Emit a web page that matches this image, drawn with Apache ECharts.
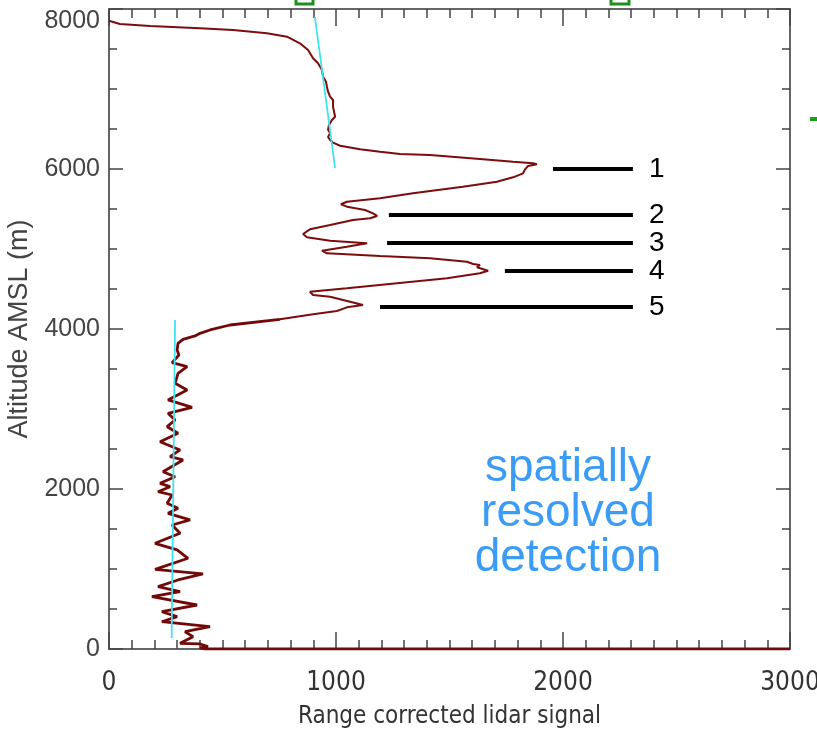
<!DOCTYPE html>
<html>
<head>
<meta charset="utf-8">
<script src="https://cdn.jsdelivr.net/npm/echarts@6/dist/echarts.min.js"></script>
<style>
  html, body { margin: 0; padding: 0; background: #fff; }
  #chart { width: 817px; height: 732px; }
</style>
</head>
<body>
<div id="chart"></div>
<script>
// lidar profile (top -> bottom)
const signal = [0, 48, 181, 401, 546, 696, 784, 841, 877, 899, 921, 938, 943, 956, 960, 965, 974, 987, 987, 996,
  982, 969, 965, 974, 965, 974, 987, 1018, 1106, 1194, 1282, 1414, 1634, 1780, 1868, 1885,
  1846, 1833, 1824, 1780, 1709, 1559, 1339, 1194, 1048, 1022, 1048, 1128, 1163, 1181,
  1150, 1075, 974, 885, 855, 872, 974, 1137, 1048, 938, 960, 1194, 1414, 1577, 1604, 1634, 1621, 1670,
  1634, 1489, 1269, 1048, 885, 899, 974, 1062, 1119, 1048, 1004, 899, 753,
  533, 445, 401, 379, 326, 304, 300, 308, 278, 344, 304, 291, 344, 260, 366, 260, 291, 256, 304, 225,
  313, 269, 326, 238, 291, 225, 269, 216, 278, 256, 304, 260, 357, 278, 313, 203, 300, 348, 203, 414,
  304, 216, 313, 189, 388, 233, 300, 233, 445, 335, 370, 313, 401, 436, 401, 420, 3000];
const altitude = [7854, 7813, 7788, 7759, 7738, 7696, 7654, 7571, 7488, 7384, 7321, 7238, 7154, 7091, 7029, 6966, 6904, 6863, 6779, 6654,
  6613, 6550, 6488, 6450, 6400, 6363, 6329, 6291, 6246, 6216, 6188, 6175, 6125, 6091, 6071, 6059,
  6038, 5996, 5946, 5896, 5841, 5779, 5696, 5634, 5591, 5559, 5529, 5488, 5446, 5413,
  5384, 5363, 5300, 5246, 5188, 5146, 5104, 5071, 5029, 4979, 4946, 4913, 4884, 4841, 4813, 4800, 4771, 4729,
  4696, 4634, 4571, 4509, 4466, 4425, 4404, 4341, 4300, 4271, 4225, 4184, 4121,
  4050, 3988, 3946, 3913, 3871, 3821, 3738, 3675, 3579, 3529, 3446, 3321, 3238, 3113, 3021, 2946, 2863, 2779, 2696, 2591,
  2488, 2404, 2363, 2216, 2154, 2071, 2029, 1966, 1925, 1821, 1759, 1696, 1613, 1550, 1446, 1321, 1238, 1134, 996, 938,
  863, 779, 716, 654, 550, 466, 404, 341, 279, 216, 154, 71, 63, 29, 13, 0, 0];

// below this altitude the profile is noisy and drawn heavier
const noisyBelow = 4121;

// cyan fit lines
const fitUpperX = [907, 996];
const fitUpperY = [7900, 6013];
const fitLowerX = [291, 276];
const fitLowerY = [4113, 138];

// layer markers 1..5
const markerNames = ['1', '2', '3', '4', '5'];
const markerAlt = [6000, 5425, 5075, 4725, 4275];
const markerStart = [1956, 1233, 1225, 1744, 1194];
const markerEnd = 2308;

const chart = echarts.init(document.getElementById('chart'));

const profile = signal.map((s, i) => [s, altitude[i]]);
const cut = altitude.indexOf(noisyBelow);
const profileUpper = profile.slice(0, cut + 1);
const profileLower = profile.slice(cut);

const markerSeries = markerNames.map((n, i) => ({
  type: 'line',
  data: [[markerStart[i], markerAlt[i]], [markerEnd, markerAlt[i]]],
  showSymbol: false,
  symbol: 'none',
  silent: true,
  lineStyle: { color: '#000', width: 4 },
  endLabel: {
    show: true,
    formatter: n,
    distance: 16,
    color: '#000',
    fontSize: 28,
    fontFamily: 'Liberation Sans, Arial, sans-serif'
  },
  z: 4
}));

const narrow = "'Liberation Sans Narrow', 'DejaVu Sans Condensed', sans-serif";
const plain = v => String(v);

const tickStyle = { color: '#444', width: 1.5 };
const axLine = { show: true, onZero: false, lineStyle: { color: '#666', width: 2 } };

const option = {
  animation: false,
  backgroundColor: '#fff',
  grid: { left: 109, right: 27, top: 9, bottom: 83, containLabel: false, outerBoundsMode: 'none' },
  xAxis: [
    {
      type: 'value', min: 0, max: 3000, interval: 1000,
      name: 'Range corrected lidar signal', nameLocation: 'middle', nameGap: 56,
      nameTextStyle: { fontSize: 24, color: '#333', fontFamily: narrow },
      axisLine: axLine,
      axisTick: { show: true, inside: true, length: 17, lineStyle: tickStyle },
      minorTick: { show: true, splitNumber: 10, length: 9, lineStyle: tickStyle },
      axisLabel: { margin: 21, fontSize: 26, color: '#333', fontFamily: narrow, formatter: plain },
      splitLine: { show: false }
    },
    {
      type: 'value', min: 0, max: 3000, interval: 1000, position: 'top',
      axisLine: axLine,
      axisTick: { show: true, inside: true, length: 17, lineStyle: tickStyle },
      minorTick: { show: true, splitNumber: 10, length: 9, lineStyle: tickStyle },
      axisLabel: { show: false },
      splitLine: { show: false }
    }
  ],
  yAxis: [
    {
      type: 'value', min: 0, max: 8000, interval: 2000,
      name: 'Altitude AMSL (m)', nameLocation: 'middle', nameGap: 76, nameRotate: 90,
      nameTextStyle: { fontSize: 27, color: '#444', fontFamily: 'Liberation Sans, Arial, sans-serif' },
      axisLine: axLine,
      axisTick: { show: true, inside: true, length: 14, lineStyle: tickStyle },
      minorTick: { show: true, splitNumber: 4, length: 8, lineStyle: tickStyle },
      axisLabel: { margin: 9, fontSize: 25, color: '#444', fontFamily: 'Liberation Sans, Arial, sans-serif',
        formatter: plain, verticalAlignMaxLabel: 'top' },
      splitLine: { show: false }
    },
    {
      type: 'value', min: 0, max: 8000, interval: 2000, position: 'right',
      axisLine: axLine,
      axisTick: { show: true, inside: true, length: 14, lineStyle: tickStyle },
      minorTick: { show: true, splitNumber: 4, length: 8, lineStyle: tickStyle },
      axisLabel: { show: false },
      splitLine: { show: false }
    }
  ],
  series: [
    {
      type: 'line',
      data: profileUpper,
      showSymbol: false,
      symbol: 'none',
      lineStyle: { color: '#7d0c0c', width: 2 },
      z: 3
    },
    {
      type: 'line',
      data: profileLower,
      showSymbol: false,
      symbol: 'none',
      lineStyle: { color: '#720808', width: 2.8 },
      z: 3
    },
    {
      type: 'line',
      data: fitUpperX.map((x, i) => [x, fitUpperY[i]]),
      showSymbol: false, symbol: 'none',
      lineStyle: { color: '#3fe3ec', width: 1.8 },
      z: 5
    },
    {
      type: 'line',
      data: fitLowerX.map((x, i) => [x, fitLowerY[i]]),
      showSymbol: false, symbol: 'none',
      lineStyle: { color: '#3fe3ec', width: 1.8 },
      z: 5
    },
    ...markerSeries
  ],
  graphic: [
    {
      type: 'text', x: 568, y: 446,
      style: {
        text: 'spatially\nresolved\ndetection',
        fill: '#3b9cf6',
        font: '46px "Liberation Sans", Arial, sans-serif',
        lineHeight: 45,
        align: 'center',
        textAlign: 'center'
      }
    },
    { type: 'rect', shape: { x: 296, y: -5, width: 17, height: 9 }, style: { fill: 'none', stroke: '#1c8f1c', lineWidth: 3 } },
    { type: 'rect', shape: { x: 611, y: -5, width: 18, height: 9 }, style: { fill: 'none', stroke: '#1c8f1c', lineWidth: 3 } },
    { type: 'rect', shape: { x: 810, y: 117, width: 7, height: 4 }, style: { fill: '#19a019' } }
  ]
};

chart.setOption(option);
</script>
</body>
</html>
